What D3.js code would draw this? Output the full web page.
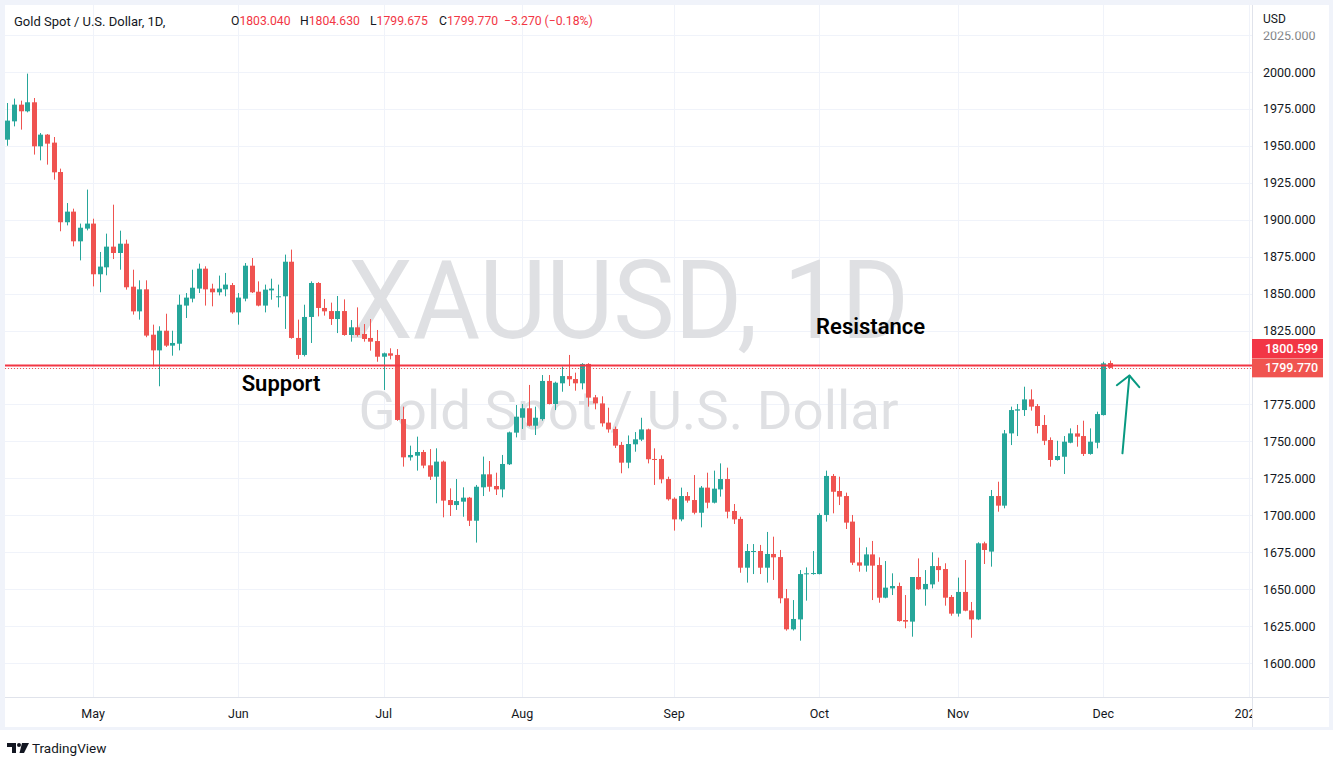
<!DOCTYPE html>
<html><head><meta charset="utf-8">
<script src="https://cdn.jsdelivr.net/npm/d3@7/dist/d3.min.js"></script>
<style>
body{margin:0;background:#fff;}
svg{display:block;}
text{font-family:Roboto,"Noto Sans",sans-serif;}
</style>
</head><body>
<svg id="c" width="1340" height="767"></svg>
<script>
// ---------------- DATA ----------------
const symbolTitle = "Gold Spot / U.S. Dollar, 1D,";
const watermarkTop = "XAUUSD, 1D";
const watermarkBottom = "Gold Spot / U.S. Dollar";
const firstDate = "2022-04-13";
const axisEndDate = "2023-01-03";

const opens = [1954.2,1966.6,1977.9,1973.4,1979.5,1949.7,1957.6,1952.2,1932.3,1898.3,1905.5,1885.4,1894.0,
1897.4,1863.1,1867.8,1881.8,1877.5,1883.8,1854.7,1838.0,1852.9,1822.2,1811.6,1824.9,1814.8,1816.1,1841.9,1846.6,1853.4,
1866.9,1853.4,1850.9,1852.9,1855.8,1837.3,1846.6,1868.9,1851.3,1841.9,1852.2,1848.2,1848.2,1871.6,1820.0,1808.5,1834.2,1857.2,1840.3,1838.2,
1832.8,1838.2,1822.0,1827.2,1822.7,1820.0,1817.9,1807.3,1809.6,1808.5,1765.1,1739.2,1740.3,1742.8,1733.8,1726.1,1736.3,1710.3,1706.9,1709.2,
1711.9,1696.3,1718.9,1727.7,1719.8,1717.5,1734.5,1755.9,1766.0,1772.4,1760.6,1765.1,1790.9,1775.3,1789.3,1794.2,1792.2,1789.3,1802.4,1779.8,
1775.7,1762.7,1758.4,1747.6,1735.6,1748.0,1751.2,1758.1,1738.1,1738.1,1724.5,1711.2,1697.2,1713.0,1710.3,1701.7,1718.7,1708.5,1717.5,1724.5,
1702.9,1697.5,1664.5,1675.4,1675.8,1664.5,1673.8,1671.7,1643.8,1622.8,1629.5,1660.2,1660.2,1660.2,1700.2,1726.6,1716.4,1713.0,1695.7,1668.1,
1665.9,1673.5,1666.3,1644.2,1650.5,1652.1,1629.1,1628.0,1658.2,1649.9,1653.2,1665.6,1663.6,1644.7,1633.4,1648.1,1635.6,1629.5,1681.0,1675.4,
1713.0,1706.5,1755.4,1770.8,1771.2,1778.4,1773.9,1761.1,1750.9,1737.4,1739.6,1749.1,1755.4,1753.6,1741.5,1749.1,1767.8,1803.04];
const highs = [1979.0,1982.0,1980.6,1998.9,1982.4,1958.7,1958.0,1956.0,1934.6,1911.3,1907.5,1897.4,1920.4,
1900.7,1878.2,1890.6,1910.2,1892.6,1886.5,1866.2,1859.0,1859.0,1829.0,1827.9,1836.4,1824.9,1849.3,1850.4,1866.2,1870.3,
1868.5,1856.7,1862.2,1864.0,1857.2,1850.4,1870.7,1874.1,1858.3,1856.1,1860.1,1856.1,1876.4,1879.8,1832.4,1842.5,1858.3,1857.8,1846.4,1843.9,
1848.4,1846.1,1832.1,1840.7,1829.4,1832.8,1825.4,1810.1,1813.0,1812.5,1773.5,1747.1,1753.2,1744.2,1744.8,1745.3,1737.0,1718.2,1724.5,1718.9,
1712.4,1720.5,1739.7,1736.7,1728.8,1740.8,1756.6,1774.6,1775.3,1788.2,1773.5,1794.9,1794.9,1790.4,1800.6,1808.5,1796.5,1802.9,1802.9,1781.4,
1780.5,1772.8,1760.0,1749.6,1754.0,1756.3,1766.0,1758.6,1745.3,1740.5,1726.1,1712.1,1718.7,1715.7,1727.2,1719.8,1728.8,1730.2,1735.1,1732.2,
1707.6,1699.0,1680.5,1680.5,1679.9,1688.7,1685.5,1676.5,1650.1,1642.6,1662.9,1664.7,1675.8,1701.3,1730.2,1727.9,1726.1,1715.3,1700.2,1684.8,
1678.3,1682.6,1671.5,1669.0,1660.7,1654.4,1646.0,1658.2,1670.8,1662.9,1674.9,1671.3,1667.5,1646.0,1657.8,1669.7,1641.3,1681.7,1682.1,1717.1,
1722.7,1757.7,1773.5,1775.3,1787.0,1785.2,1775.3,1767.8,1752.7,1750.4,1753.6,1758.8,1761.1,1764.0,1758.8,1770.1,1803.9,1804.63];
const lows = [1950.1,1963.2,1961.0,1972.7,1944.1,1940.2,1937.3,1927.1,1892.2,1896.2,1882.0,1872.5,1892.8,
1854.9,1850.9,1862.4,1873.4,1866.2,1852.7,1835.8,1832.4,1820.5,1800.8,1787.3,1813.9,1808.0,1811.6,1833.5,1844.1,1850.4,
1841.9,1841.4,1848.8,1848.2,1836.4,1829.0,1844.8,1850.4,1841.4,1837.3,1845.9,1840.7,1826.1,1819.5,1805.8,1807.5,1816.6,1834.6,1835.1,1828.8,
1823.3,1821.5,1817.5,1820.9,1817.5,1811.4,1803.9,1784.8,1805.5,1763.9,1732.9,1737.0,1730.2,1731.8,1723.9,1708.1,1698.6,1699.5,1703.6,1699.0,
1692.7,1681.5,1713.0,1716.0,1713.7,1712.1,1734.0,1752.7,1758.4,1760.1,1754.3,1764.0,1775.0,1771.2,1783.6,1787.5,1784.3,1785.2,1773.5,1771.7,
1760.0,1755.9,1745.5,1728.4,1731.8,1743.0,1750.2,1735.1,1720.5,1721.6,1709.9,1689.6,1695.9,1708.5,1700.6,1691.8,1704.7,1708.0,1712.6,1697.9,
1694.1,1661.1,1654.4,1660.2,1660.2,1654.4,1656.2,1640.4,1621.9,1622.0,1615.1,1642.2,1659.8,1660.0,1695.7,1701.3,1706.9,1690.7,1666.3,1661.8,
1661.8,1642.6,1640.8,1643.8,1646.0,1628.0,1623.5,1617.8,1649.5,1638.8,1650.5,1655.0,1638.8,1632.0,1631.4,1635.0,1617.1,1629.0,1667.0,1665.2,
1702.4,1704.7,1747.5,1753.6,1767.2,1770.8,1755.4,1747.5,1732.9,1737.0,1727.9,1748.7,1746.4,1740.1,1741.0,1745.3,1767.5,1799.675];
const closes = [1967.1,1977.9,1973.4,1979.5,1949.7,1957.6,1951.5,1932.1,1898.3,1905.5,1885.4,1894.6,1897.4,
1863.1,1868.3,1881.8,1877.5,1883.8,1854.3,1838.0,1852.9,1821.6,1811.6,1824.9,1814.8,1816.6,1842.5,1847.3,1854.0,1866.9,
1852.9,1850.9,1853.4,1856.1,1837.3,1847.3,1868.9,1850.9,1841.9,1852.7,1853.4,1848.2,1871.6,1820.0,1808.5,1834.2,1857.2,1840.3,1838.0,1832.8,
1838.2,1822.0,1827.2,1822.0,1819.3,1817.5,1807.3,1809.6,1808.0,1764.5,1739.2,1740.8,1742.8,1733.6,1726.1,1736.3,1709.9,1706.9,1709.6,1711.9,
1696.3,1719.3,1727.7,1719.3,1717.5,1734.7,1756.1,1766.7,1772.4,1760.6,1766.0,1790.9,1775.3,1789.7,1794.2,1792.0,1789.3,1802.4,1779.6,1775.7,
1762.2,1758.1,1747.1,1735.6,1748.2,1751.4,1758.1,1737.9,1737.6,1724.3,1710.8,1697.2,1713.0,1709.9,1701.7,1718.7,1708.5,1718.0,1724.5,1702.4,
1697.2,1664.5,1675.8,1675.8,1664.5,1673.8,1671.5,1643.8,1622.8,1629.8,1660.2,1660.7,1660.9,1700.2,1726.6,1715.9,1712.6,1695.0,1667.9,1665.9,
1673.5,1665.9,1644.2,1651.0,1652.1,1628.4,1628.0,1658.2,1649.9,1653.5,1665.6,1662.9,1644.2,1633.4,1648.1,1635.4,1629.5,1681.0,1676.5,1713.0,
1706.5,1755.4,1771.2,1771.7,1778.4,1773.5,1760.4,1750.4,1737.4,1740.1,1749.8,1755.4,1753.2,1741.5,1749.8,1768.5,1802.8,1799.77];

const priceTicks = [1600,1625,1650,1675,1700,1725,1750,1775,1800,1825,1850,1875,1900,1925,1950,1975,2000,2025];
const monthTickDates = ["2022-05-02","2022-06-01","2022-07-01","2022-08-01","2022-09-01","2022-10-03","2022-11-01","2022-12-01","2023-01-02"];
const monthTickLabels = ["May","Jun","Jul","Aug","Sep","Oct","Nov","Dec","2023"];

const legendItems = [["O","1803.040"],["H","1804.630"],["L","1799.675"],["C","1799.770"],["","\u22123.270 (\u22120.18%)"]];
const horizontalLevel = 1800.599;
const lastPrice = 1799.770;

// annotations in data coordinates: [bar index, price]
const supportLabel = {text:"Support", at:[35.5, 1784.2]};
const resistanceLabel = {text:"Resistance", at:[122.5, 1822.8]};
const arrowShaft = [[168.9, 1741.9],[169.95, 1794.4]];
const arrowHead = [[168.05, 1788.0],[169.95, 1794.6],[171.45, 1786.7]];

// ---------------- LAYOUT ----------------
const W = 1340, H = 767;
const pane = {x0:5, x1:1252, y0:5, y1:697};
const axisRight = 1329, axisBottom = 727;
const GREEN = "#26a69a", RED = "#ef5350", TXT = "#131722", GRID = "#f0f3fa", BORDER = "#e0e3eb";

const parse = d3.timeParse("%Y-%m-%d");
const tradingDays = d3.timeDay.range(parse(firstDate), parse(axisEndDate)).filter(d => d.getDay() !== 0 && d.getDay() !== 6);
const fmtKey = d3.timeFormat("%Y-%m-%d");
const dayIndex = new Map(tradingDays.map((d,i)=>[fmtKey(d), i]));

const x = d3.scaleLinear().domain([0, 166]).range([7.3, 1103.3]);
const y = d3.scaleLinear().domain([1600, 2000]).range([663, 72]);

const svg = d3.select("#c");
svg.append("rect").attr("width",W).attr("height",H).attr("fill","#fff");

// frame
svg.append("rect").attr("x",0).attr("y",0).attr("width",axisRight+4).attr("height",axisBottom+3).attr("fill","#f0f3fa");
svg.append("rect").attr("x",pane.x0).attr("y",pane.y0).attr("width",axisRight-pane.x0).attr("height",axisBottom-pane.y0).attr("fill","#fff");

const defs = svg.append("defs");
defs.append("clipPath").attr("id","paneClip").append("rect")
  .attr("x",pane.x0).attr("y",pane.y0).attr("width",pane.x1-pane.x0).attr("height",pane.y1-pane.y0);
defs.append("clipPath").attr("id","timeClip").append("rect")
  .attr("x",pane.x0).attr("y",pane.y1).attr("width",pane.x1-pane.x0).attr("height",axisBottom-pane.y1);

const g = svg.append("g").attr("clip-path","url(#paneClip)");

// grid
g.selectAll("line.hg").data(priceTicks).join("line")
  .attr("x1",pane.x0).attr("x2",pane.x1)
  .attr("y1",d=>Math.round(y(d))+0.5).attr("y2",d=>Math.round(y(d))+0.5)
  .attr("stroke",GRID).attr("stroke-width",1);
const monthIdx = monthTickDates.map(d=>dayIndex.get(d));
g.selectAll("line.vg").data(monthIdx).join("line")
  .attr("x1",d=>Math.round(x(d))+0.5).attr("x2",d=>Math.round(x(d))+0.5)
  .attr("y1",pane.y0).attr("y2",pane.y1)
  .attr("stroke",GRID).attr("stroke-width",1);

// watermark
const cx = (pane.x0+pane.x1)/2;
g.append("text").attr("x",cx).attr("y",338).attr("text-anchor","middle")
  .attr("font-size",109).attr("fill","rgb(223,224,227)")
  .attr("textLength",561).attr("lengthAdjust","spacingAndGlyphs").text(watermarkTop);
g.append("text").attr("x",cx).attr("y",429).attr("text-anchor","middle")
  .attr("font-size",54).attr("fill","rgb(223,224,227)")
  .attr("textLength",540).attr("lengthAdjust","spacingAndGlyphs").text(watermarkBottom);

// candles
const bars = opens.map((o,i)=>({i, o, h:highs[i], l:lows[i], c:closes[i]}));
const cg = g.append("g");
cg.selectAll("line.wick").data(bars).join("line")
  .attr("x1",d=>Math.round(x(d.i))+0.5).attr("x2",d=>Math.round(x(d.i))+0.5)
  .attr("y1",d=>y(d.h)).attr("y2",d=>y(d.l))
  .attr("stroke",d=>d.c>=d.o?GREEN:RED).attr("stroke-width",1);
cg.selectAll("rect.body").data(bars).join("rect")
  .attr("x",d=>Math.round(x(d.i))-2).attr("width",5)
  .attr("y",d=>y(Math.max(d.o,d.c)))
  .attr("height",d=>Math.max(1, y(Math.min(d.o,d.c))-y(Math.max(d.o,d.c))))
  .attr("fill",d=>d.c>=d.o?GREEN:RED);

// horizontal level + last price line
g.append("line").attr("x1",pane.x0).attr("x2",pane.x1)
  .attr("y1",y(horizontalLevel)-1).attr("y2",y(horizontalLevel)-1)
  .attr("stroke","#f23645").attr("stroke-width",2);
g.append("line").attr("x1",pane.x0).attr("x2",pane.x1)
  .attr("y1",Math.round(y(lastPrice))+0.5).attr("y2",Math.round(y(lastPrice))+0.5)
  .attr("stroke",RED).attr("stroke-width",1).attr("stroke-dasharray","1,2");

// annotations
[supportLabel, resistanceLabel].forEach(a=>{
  g.append("text").attr("x",x(a.at[0])).attr("y",y(a.at[1]))
    .attr("font-family","'Open Sans',sans-serif").attr("font-weight",600)
    .attr("font-size",22).attr("fill","#000").text(a.text);
});
const line = d3.line().x(d=>x(d[0])).y(d=>y(d[1]));
g.append("path").attr("d",line(arrowShaft)).attr("fill","none").attr("stroke","#089981").attr("stroke-width",2).attr("stroke-linecap","round");
g.append("path").attr("d",line(arrowHead)).attr("fill","none").attr("stroke","#089981").attr("stroke-width",2).attr("stroke-linecap","round").attr("stroke-linejoin","round");

// axes borders
svg.append("line").attr("x1",pane.x0).attr("x2",axisRight).attr("y1",pane.y1+0.5).attr("y2",pane.y1+0.5).attr("stroke",BORDER);
svg.append("line").attr("x1",pane.x1+0.5).attr("x2",pane.x1+0.5).attr("y1",pane.y0).attr("y2",axisBottom).attr("stroke",BORDER);

// price boxes (label-shifted upper box, last price box at its price)
const boxes = [{v:horizontalLevel, yc:348.5, fill:"#f23645"},{v:lastPrice, yc:y(lastPrice), fill:"#f05450"}];

// price axis labels (hide those covered by the boxes)
const pa = svg.append("g");
const visibleTicks = priceTicks.filter(t => !boxes.some(b => Math.abs(y(t)-b.yc) < 14));
pa.selectAll("text").data(visibleTicks).join("text")
  .attr("x",1263).attr("y",d=>y(d)).attr("dy","0.36em")
  .attr("font-size",12.5).attr("fill",TXT)
  .attr("opacity",d=>d===2025?0.55:1)
  .text(d=>d3.format(".3f")(d));
pa.append("rect").attr("x",pane.x1+1).attr("y",pane.y0).attr("width",axisRight-pane.x1-1).attr("height",26.5).attr("fill","#fff");
pa.append("text").attr("x",1263).attr("y",19).attr("dy","0.36em").attr("font-size",12).attr("fill",TXT).text("USD");

boxes.forEach(b=>{
  pa.append("rect").attr("x",pane.x1).attr("y",b.yc-9.5).attr("width",71).attr("height",19).attr("fill",b.fill);
  pa.append("text").attr("x",1265).attr("y",b.yc).attr("dy","0.36em").attr("font-size",12.5)
    .attr("font-weight",500).attr("fill","#fff").text(d3.format(".3f")(b.v));
});

// time axis labels
svg.append("g").attr("clip-path","url(#timeClip)").selectAll("text").data(monthTickLabels).join("text")
  .attr("x",(d,i)=>x(monthIdx[i])).attr("y",713).attr("dy","0.36em").attr("text-anchor","middle")
  .attr("font-size",12.5).attr("fill",TXT).text(d=>d);

// header legend
svg.append("text").attr("x",14).attr("y",21).attr("dy","0.36em").attr("font-size",13).attr("fill",TXT).text(symbolTitle);
const legX = [231, 300, 370, 439, 504];
legendItems.forEach((it,i)=>{
  const t = svg.append("text").attr("x",legX[i]).attr("y",21).attr("dy","0.36em").attr("font-size",12.2);
  t.append("tspan").attr("fill",TXT).text(it[0]);
  t.append("tspan").attr("fill","#f23645").text(it[1]);
});

// TradingView logo
const lg = svg.append("g").attr("fill",TXT);
lg.append("path").attr("d","M7 743h9v10h-4v-6h-5z");
lg.append("circle").attr("cx",19).attr("cy",745).attr("r",2);
lg.append("path").attr("d","M22 743h7l-5 10h-4.5z");
svg.append("text").attr("x",32).attr("y",748).attr("dy","0.36em").attr("font-size",13.5).attr("fill",TXT).text("TradingView");
</script>
</body></html>
